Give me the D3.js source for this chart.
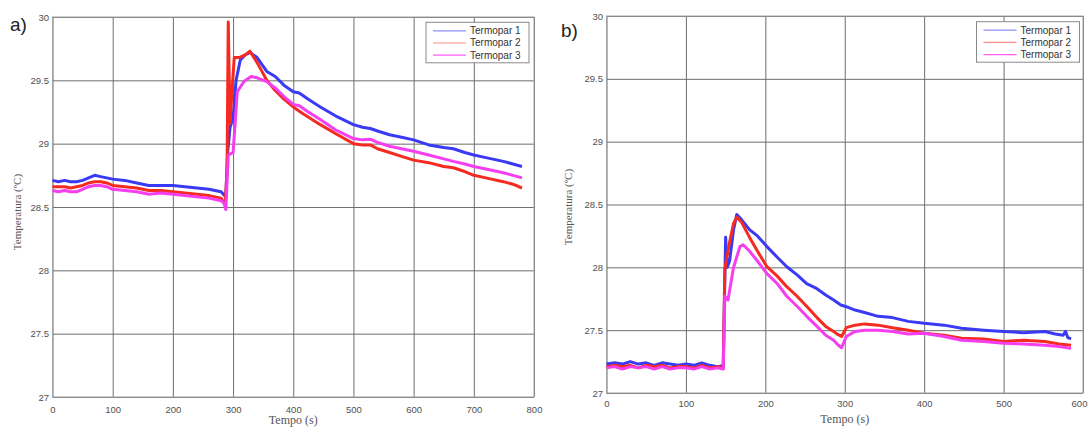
<!DOCTYPE html>
<html>
<head>
<meta charset="utf-8">
<script src="https://cdn.jsdelivr.net/npm/d3@7"></script>
<style>
  body { margin: 0; background: #fff; }
  svg { display: block; }
</style>
</head>
<body>
<svg id="chart" width="1088" height="427"></svg>
<script>
// ---- data ----
var legendNames = ["Termopar 1", "Termopar 2", "Termopar 3"];
var yTicks = [27, 27.5, 28, 28.5, 29, 29.5, 30];
var xTicksA = [0, 100, 200, 300, 400, 500, 600, 700, 800];
var xTicksB = [0, 100, 200, 300, 400, 500, 600];

// panel a)
var timeA1 = [0,10,20,30,40,50,60,70,80,90,100,120,140,160,180,200,220,240,260,280,288,291,295,300,305,312,320,328,340,356,370,385,400,410,425,445,470,500,515,528,540,560,580,600,625,650,666,685,700,720,749,765,780];
var tempA1 = [28.71,28.70,28.71,28.70,28.70,28.71,28.73,28.75,28.74,28.73,28.72,28.71,28.69,28.67,28.67,28.67,28.66,28.65,28.64,28.62,28.58,28.93,29.13,29.20,29.50,29.66,29.70,29.72,29.68,29.57,29.53,29.46,29.41,29.40,29.35,29.29,29.22,29.15,29.13,29.12,29.10,29.07,29.05,29.03,28.99,28.97,28.96,28.93,28.91,28.89,28.86,28.84,28.82];
var timeA2 = [0,10,20,30,40,50,60,70,80,90,100,120,140,160,180,200,220,240,260,280,287,290,292,295,298,302,310,320,328,340,356,370,385,400,415,445,470,500,515,528,540,560,580,600,625,650,666,685,700,720,749,765,780];
var tempA2 = [28.66,28.66,28.66,28.65,28.66,28.67,28.69,28.70,28.70,28.69,28.67,28.66,28.65,28.63,28.63,28.62,28.61,28.60,28.59,28.57,28.52,28.80,29.96,29.16,29.40,29.68,29.68,29.70,29.73,29.64,29.50,29.42,29.35,29.29,29.24,29.15,29.08,29.00,28.99,28.99,28.96,28.93,28.90,28.87,28.85,28.82,28.81,28.78,28.75,28.73,28.70,28.68,28.65];
var timeA3 = [0,10,20,30,40,50,60,70,80,90,100,120,140,160,180,200,220,240,260,280,285,288,292,300,304,307,318,330,340,356,370,385,400,410,425,445,470,500,515,528,540,560,580,600,625,650,666,685,700,720,749,765,780];
var tempA3 = [28.63,28.62,28.63,28.62,28.62,28.64,28.66,28.67,28.67,28.66,28.64,28.63,28.62,28.60,28.61,28.60,28.59,28.58,28.57,28.55,28.53,28.48,28.91,28.93,29.20,29.41,29.49,29.53,29.52,29.49,29.44,29.37,29.31,29.30,29.25,29.19,29.11,29.04,29.03,29.035,29.01,28.98,28.96,28.94,28.91,28.88,28.86,28.84,28.82,28.80,28.77,28.75,28.73];

// panel b)
var timeB1 = [0,10,20,30,40,50,60,70,80,90,100,110,120,130,140,147,150,152,155,160,164,170,180,190,202,215,227,240,252,265,276,286,295,305,313,325,342,360,380,400,425,447,475,500,525,552,565,575,578,581,585];
var tempB1 = [27.23,27.24,27.23,27.25,27.23,27.24,27.22,27.24,27.23,27.22,27.23,27.22,27.24,27.22,27.21,27.22,28.24,28.00,28.05,28.30,28.42,28.38,28.30,28.25,28.165,28.08,28.005,27.94,27.87,27.83,27.78,27.74,27.70,27.68,27.66,27.64,27.61,27.60,27.57,27.555,27.54,27.515,27.50,27.49,27.48,27.49,27.47,27.46,27.49,27.44,27.43];
var timeB2 = [0,10,20,30,40,50,60,70,80,90,100,110,120,130,140,147,149,151,155,160,164,170,180,190,202,215,227,240,252,265,276,286,290,296,302,313,325,342,360,380,400,425,447,475,500,525,552,570,585];
var tempB2 = [27.21,27.22,27.21,27.22,27.20,27.22,27.21,27.22,27.20,27.21,27.21,27.20,27.22,27.20,27.21,27.20,27.98,28.06,28.20,28.35,28.40,28.36,28.24,28.13,28.005,27.93,27.846,27.77,27.69,27.60,27.53,27.49,27.47,27.45,27.52,27.54,27.55,27.54,27.52,27.50,27.475,27.46,27.435,27.43,27.41,27.42,27.41,27.39,27.38];
var timeB3 = [0,10,20,30,40,50,60,70,80,90,100,110,120,130,140,147,149,153,160,168,172,180,190,202,215,227,240,252,265,276,286,292,296,302,313,325,342,360,380,400,425,447,475,500,525,552,570,585];
var tempB3 = [27.20,27.21,27.19,27.21,27.20,27.21,27.19,27.21,27.19,27.20,27.20,27.19,27.21,27.19,27.20,27.19,27.77,27.74,28.00,28.165,28.18,28.13,28.05,27.95,27.87,27.77,27.69,27.61,27.53,27.46,27.42,27.38,27.36,27.45,27.49,27.50,27.50,27.49,27.47,27.475,27.45,27.42,27.41,27.395,27.39,27.38,27.37,27.355];

var lineColors = ["#3a3af5", "#f52a20", "#f53ef0"];
var legendColors = ["#8f8fff", "#ff8a8a", "#ff5cf8"];

var svg = d3.select("#chart");

function zip(ts, vs) {
  return ts.map(function(t, i) { return [t, vs[i]]; });
}

function panel(opt) {
  var x = d3.scaleLinear().domain([0, opt.xmax]).range([opt.left, opt.right]);
  var y = d3.scaleLinear().domain([27, 30]).range([opt.bottom, opt.top]);
  var h = opt.bottom - opt.top, w = opt.right - opt.left;

  var g = svg.append("g");

  // grid lines through the axes
  var gx = g.append("g")
      .attr("transform", "translate(0," + opt.bottom + ")")
      .call(d3.axisBottom(x).tickValues(opt.xTicks).tickSizeInner(-h).tickSizeOuter(0).tickPadding(opt.xPad));
  var gy = g.append("g")
      .attr("transform", "translate(" + opt.left + ",0)")
      .call(d3.axisLeft(y).tickValues(yTicks).tickFormat(d3.format("")).tickSizeInner(-w).tickSizeOuter(0).tickPadding(3.5));

  [gx, gy].forEach(function(a) {
    a.select(".domain").remove();
    a.selectAll("line").attr("stroke", "#6e6e6e").attr("stroke-width", 1);
    a.selectAll("text")
      .attr("fill", "#505050")
      .style("font", "9.5px 'Liberation Sans', Arial, sans-serif");
  });
  // last x label sits at the window edge: nudge it so it stays visible
  if (opt.lastNudge) {
    gx.selectAll(".tick").filter(function(d) { return d === opt.xmax; })
      .select("text").attr("dx", opt.lastNudge);
  }

  g.append("rect")
      .attr("x", opt.left).attr("y", opt.top)
      .attr("width", w).attr("height", h)
      .attr("fill", "none").attr("stroke", "#a3a3a3");

  var line = d3.line()
      .x(function(d) { return x(d[0]); })
      .y(function(d) { return y(d[1]); });

  opt.series.forEach(function(s, i) {
    g.append("path")
        .datum(s)
        .attr("fill", "none")
        .attr("stroke", lineColors[i])
        .attr("stroke-width", 3)
        .attr("stroke-linejoin", "round")
        .attr("d", line);
  });

  // legend
  var lg = g.append("g").attr("transform", "translate(" + opt.legX + "," + opt.legY + ")");
  lg.append("rect")
      .attr("width", 103).attr("height", 40.5)
      .attr("fill", "#fff").attr("stroke", "#8a8a8a");
  legendNames.forEach(function(name, i) {
    var ly = 8.5 + i * 12.2;
    lg.append("line")
        .attr("x1", 7).attr("x2", 40)
        .attr("y1", ly).attr("y2", ly)
        .attr("stroke", legendColors[i]).attr("stroke-width", 1.2);
    lg.append("text")
        .attr("x", 44).attr("y", ly).attr("dy", "0.35em")
        .attr("fill", "#333")
        .style("font", "10px 'Liberation Sans', Arial, sans-serif")
        .text(name);
  });

  // axis titles
  svg.append("text")
      .attr("x", (opt.left + opt.right) / 2).attr("y", opt.xLabelY)
      .attr("text-anchor", "middle")
      .attr("fill", "#555")
      .style("font", "12px 'Liberation Serif', 'Times New Roman', serif")
      .text("Tempo (s)");
  svg.append("text")
      .attr("transform", "translate(" + opt.yLabelX + "," + opt.yLabelMid + ") rotate(-90)")
      .attr("text-anchor", "middle")
      .attr("fill", "#555")
      .style("font", "11px 'Liberation Serif', 'Times New Roman', serif")
      .text("Temperatura (ºC)");

  svg.append("text")
      .attr("x", opt.tagX).attr("y", opt.tagY)
      .attr("fill", "#222")
      .style("font", "19px 'Liberation Sans', Arial, sans-serif")
      .text(opt.tag);
}

panel({
  left: 52.5, right: 534, top: 17, bottom: 397, xmax: 800, xTicks: xTicksA, xPad: 9,
  series: [zip(timeA1, tempA1), zip(timeA2, tempA2), zip(timeA3, tempA3)],
  legX: 426, legY: 22.3, xLabelY: 424, yLabelX: 21, yLabelMid: 212,
  tag: "a)", tagX: 10, tagY: 31
});

panel({
  left: 606.5, right: 1083, top: 16, bottom: 393, xmax: 600, xTicks: xTicksB, xPad: 7.5,
  series: [zip(timeB1, tempB1), zip(timeB2, tempB2), zip(timeB3, tempB3)],
  legX: 976.5, legY: 21.7, xLabelY: 423, yLabelX: 572, yLabelMid: 207,
  tag: "b)", tagX: 561, tagY: 37, lastNudge: -4
});
</script>
</body>
</html>
